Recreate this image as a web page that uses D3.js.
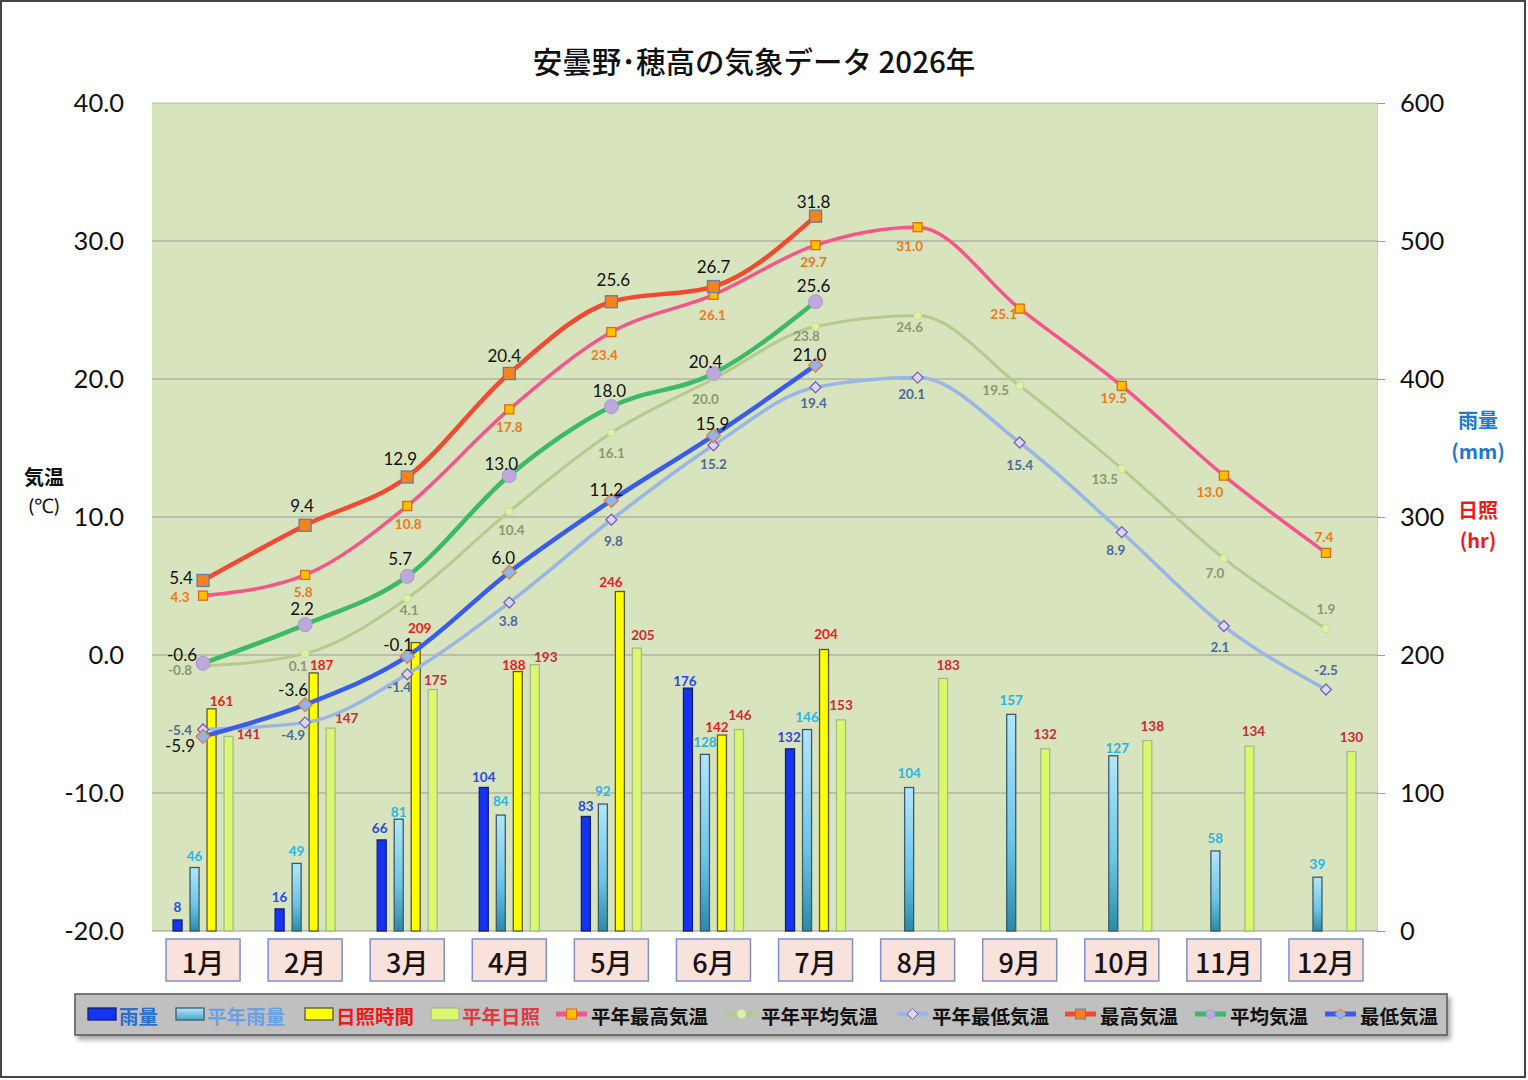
<!DOCTYPE html>
<html><head><meta charset="utf-8">
<script src="https://cdn.jsdelivr.net/npm/d3@7"></script>
<style>
html,body{margin:0;padding:0;background:#fff;}
svg{display:block;}
</style></head>
<body>
<svg id="chart" width="1528" height="1080"></svg>
<script>
// ---- data ----
const months = ['1月','2月','3月','4月','5月','6月','7月','8月','9月','10月','11月','12月'];
const rain      = [8, 16, 66, 104, 83, 176, 132];
const normRain  = [46, 49, 81, 84, 92, 128, 146, 104, 157, 127, 58, 39];
const sun       = [161, 187, 209, 188, 246, 142, 204];
const normSun   = [141, 147, 175, 193, 205, 146, 153, 183, 132, 138, 134, 130];
const maxTemp   = [5.4, 9.4, 12.9, 20.4, 25.6, 26.7, 31.8];
const avgTemp   = [-0.6, 2.2, 5.7, 13.0, 18.0, 20.4, 25.6];
const minTemp   = [-5.9, -3.6, -0.1, 6.0, 11.2, 15.9, 21.0];
const normMax   = [4.3, 5.8, 10.8, 17.8, 23.4, 26.1, 29.7, 31.0, 25.1, 19.5, 13.0, 7.4];
const normAvg   = [-0.8, 0.1, 4.1, 10.4, 16.1, 20.0, 23.8, 24.6, 19.5, 13.5, 7.0, 1.9];
const normMin   = [-5.4, -4.9, -1.4, 3.8, 9.8, 15.2, 19.4, 20.1, 15.4, 8.9, 2.1, -2.5];
const tempTicks = [-20, -10, 0, 10, 20, 30, 40];
const rightTicks = [0, 100, 200, 300, 400, 500, 600];
const title = '安曇野･穂高の気象データ 2026年';

// ---- label offsets (style) ----
const off = {
  maxTemp: [[-22,-3],[-3,-20],[-7,-18],[-5,-18],[2,-22],[0,-20],[-2,-15]],
  avgTemp: [[-21,-9],[-3,-16],[-7,-18],[-8,-12],[-2,-16],[-8,-12],[-2,-16]],
  minTemp: [[-23,9],[-12,-15],[-9,-12],[-6,-15],[-5,-11],[-1,-12],[-6,-11]],
  normMax: [[-23,1],[-2,17],[1,18],[0,18],[-7,23],[-1,20],[-2,17],[-8,19],[-16,5],[-8,12],[-14,16],[-2,-16]],
  normAvg: [[-23,4],[-7,12],[2,12],[2,19],[0,20],[-8,20],[-9,9],[-8,11],[-24,4],[-17,10],[-9,15],[0,-20]],
  normMin: [[-23,0],[-12,12],[-8,13],[-1,18],[2,21],[0,19],[-2,16],[-6,16],[0,23],[-6,18],[-4,21],[0,-20]],
  rain:    [[0,-13],[0,-12],[-2,-12],[0,-10],[0,-10],[-3,-7],[-1,-12]],
  normRain:[[0,-12],[0,-12],[0,-7],[0,-14],[0,-13],[0,-12],[0,-13],[0,-14],[0,-14],[4,-8],[0,-13],[0,-13]],
  sun:     [[10,-8],[8,-8],[4,-15],[-4,-7],[-9,-10],[-5,-8],[2,-15]],
  normSun: [[20,-2],[16,-10],[3,-10],[11,-8],[6,-13],[1,-15],[0,-15],[5,-13],[0,-15],[5,-15],[4,-15],[0,-15]]
};

const JP = '"Noto Sans CJK JP","Noto Sans",sans-serif';
const NUM = 'Lato,"Open Sans",sans-serif';
const f1 = d => d3.format('.1f')(d).replace('\u2212','-');

const svg = d3.select('#chart');
const L = 152, R = 1377, T = 103, B = 931;

// frame
svg.append('rect').attr('x',1).attr('y',1).attr('width',1524).attr('height',1076)
  .attr('fill','#fff').attr('stroke','#444').attr('stroke-width',2);

const x = d3.scaleBand().domain(months).range([L, R]);
const cx = i => x(months[i]) + x.bandwidth()/2;
const yT = d3.scaleLinear().domain([-20, 40]).range([B, T]);
const yR = d3.scaleLinear().domain([0, 600]).range([B, T]);
const sub = d3.scaleBand().domain(['rain','normRain','sun','normSun'])
  .range([-34, 34]).paddingInner(0.47).paddingOuter(0.235);

// defs gradient
const defs = svg.append('defs');
const g1 = defs.append('linearGradient').attr('id','gRain').attr('x1',0).attr('x2',0).attr('y1',0).attr('y2',1);
g1.append('stop').attr('offset','0%').attr('stop-color','#b2e6fb');
g1.append('stop').attr('offset','60%').attr('stop-color','#6cc4e4');
g1.append('stop').attr('offset','100%').attr('stop-color','#2a8aa8');
const gl = defs.append('linearGradient').attr('id','gLeg').attr('x1',0).attr('x2',0).attr('y1',0).attr('y2',1);
gl.append('stop').attr('offset','0%').attr('stop-color','#b2e6fb');
gl.append('stop').attr('offset','100%').attr('stop-color','#4aa8c8');
const sh = defs.append('filter').attr('id','shadow').attr('x','-5%').attr('y','-30%').attr('width','110%').attr('height','170%');
sh.append('feDropShadow').attr('dx',3).attr('dy',4).attr('stdDeviation',2.5).attr('flood-color','#000').attr('flood-opacity',0.35);

// plot bg
svg.append('rect').attr('x',L).attr('y',T).attr('width',R-L).attr('height',B-T).attr('fill','#d8e4bd');

// grid
svg.append('g').selectAll('line').data(tempTicks).join('line')
  .attr('x1',L).attr('x2',R).attr('y1',d=>yT(d)).attr('y2',d=>yT(d))
  .attr('stroke',d=> d===40 ? '#b8c0b0' : '#9a9a9a').attr('stroke-width',1);

// left axis
const axL = d3.axisLeft(yT).tickValues(tempTicks).tickFormat(f1).tickSize(0).tickPadding(28);
const gL = svg.append('g').attr('transform',`translate(${L},0)`).call(axL);
gL.select('.domain').remove();
gL.selectAll('text').attr('font-family',NUM).attr('font-size',25.5).attr('fill','#111');

// right axis
const axR = d3.axisRight(yR).tickValues(rightTicks).tickSize(8).tickPadding(15);
const gR = svg.append('g').attr('transform',`translate(${R},0)`).call(axR);
gR.select('.domain').attr('stroke','#c8d0c0');
gR.selectAll('line').attr('stroke','#9a9a9a');
gR.selectAll('text').attr('font-family',NUM).attr('font-size',25.5).attr('fill','#111');

// bars
function bars(data, key, fill, stroke){
  svg.append('g').selectAll('rect').data(data).join('rect')
    .attr('x',(d,i)=>cx(i)+sub(key))
    .attr('width',sub.bandwidth())
    .attr('y',d=>yR(d)).attr('height',d=>yR(0)-yR(d))
    .attr('fill',fill).attr('stroke',stroke).attr('stroke-width',1.3);
}
bars(rain,'rain','#1633f2','#14206a');
bars(normRain,'normRain','url(#gRain)','#3c5a6a');
bars(sun,'sun','#ffff00','#5a5a3a');
bars(normSun,'normSun','#d9f86e','#a8b890');

// bar labels
function barLabels(data, key, color, o){
  svg.append('g').selectAll('text').data(data).join('text')
    .attr('x',(d,i)=>cx(i)+sub(key)+sub.bandwidth()/2+o[i][0])
    .attr('y',(d,i)=>yR(d)+o[i][1])
    .attr('text-anchor','middle').attr('dominant-baseline','central')
    .attr('font-family',NUM).attr('font-weight','bold').attr('font-size',13.5)
    .attr('fill',color).text(d=>d);
}
barLabels(rain,'rain','#2a48ea',off.rain);
barLabels(normRain,'normRain','#2ab4e6',off.normRain);
barLabels(sun,'sun','#f01a1a',off.sun);
barLabels(normSun,'normSun','#cc2a36',off.normSun);

// lines
const line = d3.line().x((d,i)=>cx(i)).y(d=>yT(d)).curve(d3.curveMonotoneX);
function series(data, color, width){
  svg.append('path').datum(data).attr('d',line).attr('fill','none')
    .attr('stroke',color).attr('stroke-width',width).attr('stroke-linejoin','round').attr('stroke-linecap','round');
}
function squares(data, size, fill, stroke){
  svg.append('g').selectAll('rect').data(data).join('rect')
    .attr('x',(d,i)=>cx(i)-size/2).attr('y',d=>yT(d)-size/2).attr('width',size).attr('height',size)
    .attr('fill',fill).attr('stroke',stroke).attr('stroke-width',1.3);
}
function circles(data, r, fill, stroke){
  svg.append('g').selectAll('circle').data(data).join('circle')
    .attr('cx',(d,i)=>cx(i)).attr('cy',d=>yT(d)).attr('r',r)
    .attr('fill',fill).attr('stroke',stroke).attr('stroke-width',1);
}
function diamonds(data, s, fill, stroke){
  svg.append('g').selectAll('path').data(data).join('path')
    .attr('d',(d,i)=>{const X=cx(i),Y=yT(d);return `M${X},${Y-s}L${X+s},${Y}L${X},${Y+s}L${X-s},${Y}Z`;})
    .attr('fill',fill).attr('stroke',stroke).attr('stroke-width',1.3);
}
function tLabels(data, color, size, weight, o){
  svg.append('g').selectAll('text').data(data).join('text')
    .attr('x',(d,i)=>cx(i)+o[i][0]).attr('y',(d,i)=>yT(d)+o[i][1])
    .attr('text-anchor','middle').attr('dominant-baseline','central')
    .attr('font-family',NUM).attr('font-size',size).attr('font-weight',weight)
    .attr('fill',color).text(d=>f1(d));
}

series(normAvg,'#b6ca8e',3);
series(normMin,'#9ab6e6',3.5);
series(normMax,'#f7548c',3.5);
series(minTemp,'#3a5cec',4.5);
series(avgTemp,'#3cba68',4.5);
series(maxTemp,'#f24a30',4.5);

circles(normAvg,4,'#dcf2a6','#c4dc94');
diamonds(normMin,5.5,'#dcd6f4','#7862b4');
squares(normMax,9,'#ffc000','#e0661a');
diamonds(minTemp,7,'#8fb6ea','#e27e3e');
circles(avgTemp,7,'#bcaade','#a898cc');
squares(maxTemp,12,'#f6821c','#5a80b8');

tLabels(normAvg,'#8a9870',13.5,'bold',off.normAvg);
tLabels(normMin,'#4c6a9c',13.5,'bold',off.normMin);
tLabels(normMax,'#ea7a1e',13.5,'bold',off.normMax);
tLabels(minTemp,'#111',17,'normal',off.minTemp);
tLabels(avgTemp,'#111',17,'normal',off.avgTemp);
tLabels(maxTemp,'#111',17,'normal',off.maxTemp);

// month boxes
const mb = svg.append('g').selectAll('g').data(months).join('g')
  .attr('transform',(d,i)=>`translate(${cx(i)},960)`);
mb.append('rect').attr('x',-37).attr('y',-21).attr('width',74).attr('height',42)
  .attr('fill','#f9e1dc').attr('stroke','#7f90c6').attr('stroke-width',1.5);
mb.append('text').attr('text-anchor','middle').attr('dominant-baseline','central').attr('y',1)
  .attr('font-family',JP).attr('font-size',27).attr('font-weight',500).attr('fill','#1a1010').text(d=>d);

// title
svg.append('text').attr('x',754).attr('y',60).attr('text-anchor','middle').attr('dominant-baseline','central')
  .attr('font-family',JP).attr('font-size',29.5).attr('font-weight',500).attr('fill','#111').text(title);

// axis titles
svg.append('text').attr('x',44).attr('y',476).attr('text-anchor','middle').attr('dominant-baseline','central')
  .attr('font-family',JP).attr('font-size',20).attr('font-weight','bold').attr('fill','#111').text('気温');
svg.append('text').attr('x',44).attr('y',505).attr('text-anchor','middle').attr('dominant-baseline','central')
  .attr('font-family',NUM).attr('font-size',20).attr('fill','#111').text('(℃)');
const rt = [['雨量',419,'#1a7ad2'],['(mm)',450,'#1a7ad2'],['日照',509,'#f01818'],['(hr)',539,'#f01818']];
svg.append('g').selectAll('text').data(rt).join('text')
  .attr('x',1478).attr('y',d=>d[1]).attr('text-anchor','middle').attr('dominant-baseline','central')
  .attr('font-family',JP).attr('font-size',20).attr('font-weight','bold').attr('fill',d=>d[2]).text(d=>d[0]);

// legend
const leg = svg.append('g');
leg.append('rect').attr('x',75).attr('y',994).attr('width',1372).attr('height',41)
  .attr('fill','#c0c0c0').attr('stroke','#555').attr('stroke-width',1.5).attr('filter','url(#shadow)');
const legItems = [
  {t:'雨量', x:88, type:'bar', fill:'#1633f2', stroke:'#14206a', c:'#2a6ed0'},
  {t:'平年雨量', x:176, type:'bar', fill:'url(#gLeg)', stroke:'#3c5a6a', c:'#6aa0e4'},
  {t:'日照時間', x:305, type:'bar', fill:'#ffff00', stroke:'#5a5a3a', c:'#f01818'},
  {t:'平年日照', x:431, type:'bar', fill:'#d9f86e', stroke:'#a8b890', c:'#e03a40'},
  {t:'平年最高気温', x:556, type:'line', lc:'#f7548c', m:'sq', mf:'#ffc000', ms:'#e0661a', c:'#111'},
  {t:'平年平均気温', x:726, type:'line', lc:'#b6ca8e', m:'ci', mf:'#dcf2a6', ms:'#c4dc94', c:'#111'},
  {t:'平年最低気温', x:897, type:'line', lc:'#9ab6e6', m:'di', mf:'#dcd6f4', ms:'#7862b4', c:'#111'},
  {t:'最高気温', x:1065, type:'line', lc:'#f24a30', m:'sq', mf:'#f6821c', ms:'#5a80b8', c:'#111'},
  {t:'平均気温', x:1195, type:'line', lc:'#3cba68', m:'ci', mf:'#bcaade', ms:'#a898cc', c:'#111'},
  {t:'最低気温', x:1325, type:'line', lc:'#3a5cec', m:'di', mf:'#8fb6ea', ms:'#e27e3e', c:'#111'}
];
const ly = 1014;
legItems.forEach(it=>{
  const g = leg.append('g');
  if(it.type==='bar'){
    g.append('rect').attr('x',it.x).attr('y',ly-6).attr('width',28).attr('height',12)
      .attr('fill',it.fill).attr('stroke',it.stroke).attr('stroke-width',1.3);
  } else {
    g.append('line').attr('x1',it.x).attr('x2',it.x+31).attr('y1',ly).attr('y2',ly)
      .attr('stroke',it.lc).attr('stroke-width',5);
    const mx = it.x+15.5;
    if(it.m==='sq') g.append('rect').attr('x',mx-5).attr('y',ly-5).attr('width',10).attr('height',10).attr('fill',it.mf).attr('stroke',it.ms);
    if(it.m==='ci') g.append('circle').attr('cx',mx).attr('cy',ly).attr('r',4.5).attr('fill',it.mf).attr('stroke',it.ms);
    if(it.m==='di') g.append('path').attr('d',`M${mx},${ly-5.5}L${mx+5.5},${ly}L${mx},${ly+5.5}L${mx-5.5},${ly}Z`).attr('fill',it.mf).attr('stroke',it.ms);
  }
  g.append('text').attr('x',it.x+(it.type==='bar'?31:35)).attr('y',ly+1).attr('dominant-baseline','central')
    .attr('font-family',JP).attr('font-size',19.5).attr('font-weight','bold').attr('fill',it.c).text(it.t);
});
</script>
</body></html>
